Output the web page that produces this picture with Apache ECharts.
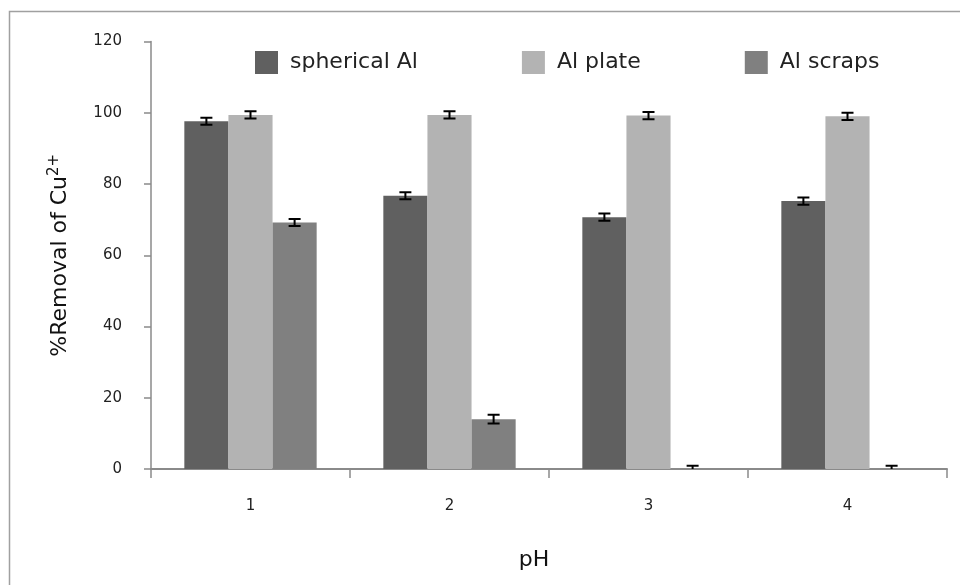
<!DOCTYPE html>
<html>
<head>
<meta charset="utf-8">
<script src="https://cdn.jsdelivr.net/npm/echarts@6/dist/echarts.min.js"></script>
<style>
  html, body { margin: 0; padding: 0; background: #fff; }
  #chart { width: 960px; height: 585px; }
</style>
</head>
<body>
<div id="chart"></div>
<script>
// pH values on the x axis
var categories = ['1', '2', '3', '4']
var yTicks = [0, 20, 40, 60, 80, 100, 120]

var sphericalAl = [97.6, 76.7, 70.7, 75.2]
var sphericalErr = [1.0, 1.0, 1.0, 1.0]
var alPlate = [99.4, 99.4, 99.2, 99.0]
var alPlateErr = [1.0, 1.0, 1.0, 1.0]
var alScraps = [69.2, 14.0, 0, 0]
var alScrapsErr = [1.0, 1.2, 0.9, 0.9]

var names = ['spherical Al', 'Al plate', 'Al scraps']
var colors = ['#606060', '#b3b3b3', '#808080']

var chart = echarts.init(document.getElementById('chart'))

// error bar for one series, offset to where its bar sits in the group
function errorSeries(values, errs, idx) {
  var data = values.map(function (v, i) { return [i, v, errs[i]] })
  return {
    type: 'custom',
    clip: true,
    z: 5,
    silent: true,
    data: data,
    renderItem: function (params, api) {
      var ci = api.value(0)
      var v = api.value(1)
      var e = api.value(2)
      var bandW = api.size([1, 0])[0]
      var barW = bandW * 0.665 / 3
      var center = api.coord([ci, v])[0]
      var x = center + (idx - 1) * barW
      var top = api.coord([ci, v + e])[1]
      var bottom = api.coord([ci, v - e])[1]
      var cap = 6
      var st = { stroke: '#000', lineWidth: 2 }
      return {
        type: 'group',
        children: [
          { type: 'line', shape: { x1: x, y1: top, x2: x, y2: bottom }, style: st },
          { type: 'line', shape: { x1: x - cap, y1: top, x2: x + cap, y2: top }, style: st },
          { type: 'line', shape: { x1: x - cap, y1: bottom, x2: x + cap, y2: bottom }, style: st }
        ]
      }
    }
  }
}

var option = {
  animation: false,
  backgroundColor: '#fff',
  textStyle: { fontFamily: 'DejaVu Sans' },
  graphic: [{
    type: 'rect',
    shape: { x: 9.5, y: 11.5, width: 1000, height: 1000 },
    style: { fill: 'none', stroke: '#a0a0a0', lineWidth: 1.5 },
    silent: true
  }],
  legend: {
    left: 250,
    top: 46,
    itemWidth: 23,
    itemHeight: 23,
    itemGap: 104,
    icon: 'rect',
    data: names,
    textStyle: { fontSize: 22, color: '#222', fontFamily: 'DejaVu Sans', padding: [0, 0, 0, 7] }
  },
  grid: {
    left: 151,
    right: 13,
    top: 41.5,
    bottom: 116
  },
  xAxis: {
    type: 'category',
    data: categories,
    name: 'pH',
    nameLocation: 'middle',
    nameGap: 80,
    nameTextStyle: { fontSize: 22, color: '#111', padding: [0, 30, 0, 0] },
    axisLine: { lineStyle: { color: '#8a8a8a', width: 2 } },
    axisTick: { show: true, length: 9, lineStyle: { color: '#8a8a8a', width: 1.5 } },
    axisLabel: { fontSize: 15, color: '#222', margin: 30 }
  },
  yAxis: {
    type: 'value',
    min: yTicks[0],
    max: yTicks[yTicks.length - 1],
    interval: 20,
    name: '%Removal of Cu{sup|2+}',
    nameLocation: 'middle',
    nameGap: 77,
    nameTextStyle: {
      fontSize: 22,
      color: '#111',
      rich: {
        sup: { fontSize: 15, verticalAlign: 'top', padding: [0, 0, 12, 0], color: '#111' }
      }
    },
    axisLine: { show: true, lineStyle: { color: '#8a8a8a', width: 1.5 } },
    axisTick: { show: true, length: 7, lineStyle: { color: '#8a8a8a', width: 1.5 } },
    axisLabel: { fontSize: 15, color: '#222', margin: 29 },
    splitLine: { show: false }
  },
  series: [
    { name: names[0], type: 'bar', data: sphericalAl, barGap: '0%', barCategoryGap: '33.5%', itemStyle: { color: colors[0] } },
    { name: names[1], type: 'bar', data: alPlate, barGap: '0%', barCategoryGap: '33.5%', itemStyle: { color: colors[1] } },
    { name: names[2], type: 'bar', data: alScraps, barGap: '0%', barCategoryGap: '33.5%', itemStyle: { color: colors[2] } },
    errorSeries(sphericalAl, sphericalErr, 0),
    errorSeries(alPlate, alPlateErr, 1),
    errorSeries(alScraps, alScrapsErr, 2)
  ]
}

chart.setOption(option)
</script>
</body>
</html>
